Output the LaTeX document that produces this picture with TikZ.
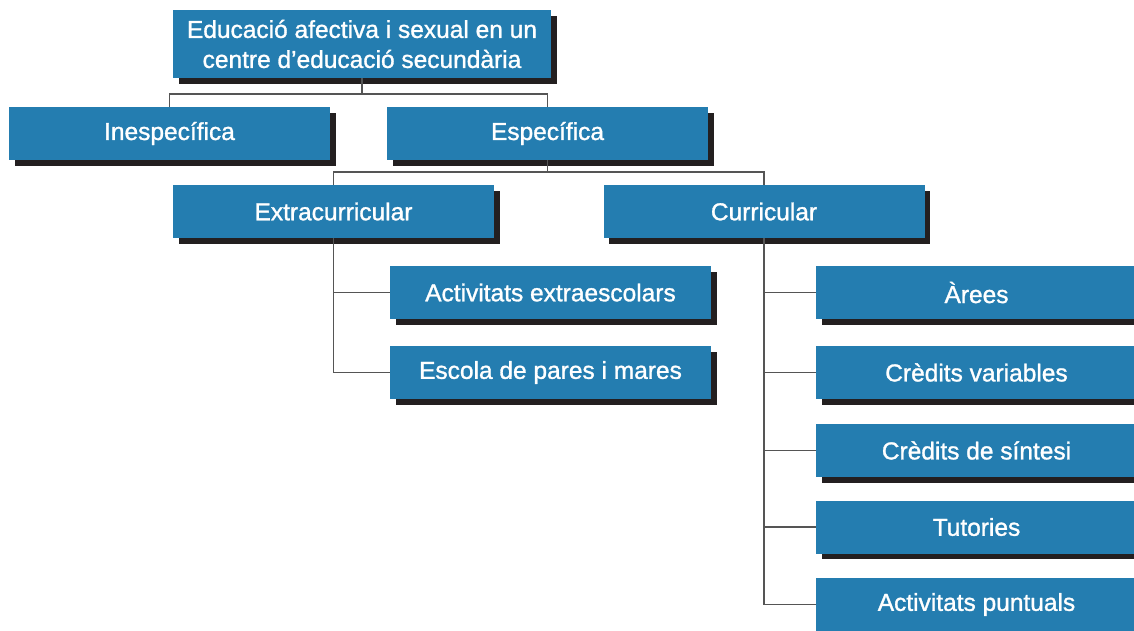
\documentclass[tikz,border=0pt]{standalone}
\usepackage{fontspec}
\setmainfont{Liberation Sans}
\newfontfamily\boxfont[FakeBold=1.2]{Liberation Sans}
\usetikzlibrary{shadows,calc}

\definecolor{boxblue}{HTML}{247DB0}
\definecolor{shadowc}{HTML}{231F20}
\definecolor{linegray}{HTML}{555555}

\tikzset{
  box/.style={rectangle, fill=boxblue, text=white, inner sep=0pt,
    minimum width=321pt, minimum height=53pt, align=center,
    font=\boxfont\fontsize{24.5}{30}\selectfont,
    drop shadow={shadow xshift=5.5pt, shadow yshift=-5.5pt, fill=shadowc, opacity=1}},
  link/.style={draw=linegray, line width=1.6pt}
}

\begin{document}
\begin{tikzpicture}[x=1pt, y=-1pt]
        \clip (0,0) rectangle (1134,630);

        % top of the tree
        \node[box, minimum width=378pt, minimum height=68pt] (root) at (362,44)
          {Educació afectiva i sexual en un\\centre d’educació secundària};

        \node[box] (ines) at (169.5,133.5) {Inespecífica};
        \node[box] (espec) at (547.5,133.5) {Específica};

        \node[box] (extra) at (333.5,211.5) {Extracurricular};
        \node[box] (curric) at (764,211.5) {Curricular};

        % extracurricular branch
        \node[box] (actext) at (550.5,292.5) {Activitats extraescolars};
        \node[box] (escola) at (550.5,372.5) {Escola de pares i mares};

        % curricular branch
        \node[box] (arees) at (976.5,292.5) {Àrees};
        \node[box] (credvar) at (976.5,372.5) {Crèdits variables};
        \node[box] (credsin) at (976.5,450.5) {Crèdits de síntesi};
        \node[box] (tutor) at (976.5,527) {Tutories};
        \node[box] (actpunt) at (976.5,604.5) {Activitats puntuals};

        % connectors
        \coordinate (bus1) at ($(root.south)+(0,16)$);
        \draw[link] (root.south) -- (bus1);
        \draw[link] (ines.north) |- (bus1) -| (espec.north);

        \coordinate (bus2) at ($(espec.south)+(0,12)$);
        \draw[link] (espec.south) -- (bus2);
        \draw[link] (extra.north) |- (bus2) -| (curric.north);

        \draw[link] (extra.south) |- (escola.west);
        \draw[link] (extra.south |- actext.west) -- (actext.west);

        \draw[link] (curric.south) |- (actpunt.west);
        \foreach \n in {arees, credvar, credsin, tutor}
          \draw[link] (curric.south |- \n.west) -- (\n.west);
    \end{tikzpicture}
\end{document}
